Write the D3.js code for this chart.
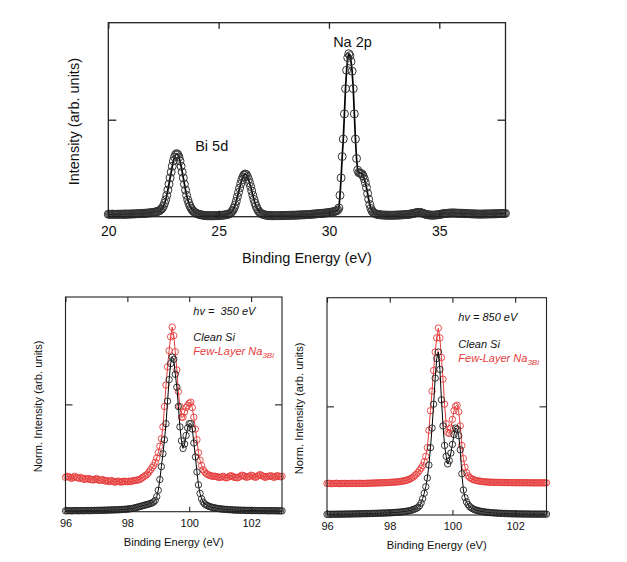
<!DOCTYPE html>
<html><head><meta charset="utf-8">
<script src="https://cdn.jsdelivr.net/npm/d3@7"></script>
<style>body{margin:0;background:#fff} svg{display:block} text{font-family:"Liberation Sans",Arial,sans-serif}</style>
</head><body><svg id="c" width="627" height="562"></svg>
<script>
// ---------- DATA ----------
const topStart = 20, topStep = 0.05;          // binding energy grid (eV)
const topIntensity = [
0.025,0.025,0.024,0.025,0.026,0.025,0.024,0.025,0.025,0.026,
0.025,0.025,0.026,0.026,0.025,0.026,0.027,0.026,0.027,0.027,
0.028,0.028,0.028,0.029,0.029,0.030,0.030,0.031,0.031,0.032,
0.033,0.033,0.034,0.035,0.036,0.037,0.038,0.039,0.040,0.041,
0.043,0.045,0.047,0.049,0.052,0.055,0.060,0.067,0.077,0.090,
0.110,0.140,0.175,0.220,0.275,0.335,0.400,0.460,0.520,0.575,
0.615,0.640,0.650,0.640,0.615,0.575,0.520,0.460,0.400,0.335,
0.275,0.220,0.175,0.140,0.110,0.088,0.070,0.057,0.047,0.040,
0.034,0.029,0.025,0.022,0.019,0.017,0.015,0.013,0.012,0.011,
0.010,
0.010,0.010,0.009,0.009,0.010,0.010,0.011,0.011,0.012,0.012,0.013,0.014,0.015,0.016,0.017,0.019,0.021,0.023,
0.027,0.032,0.040,0.052,0.068,0.090,0.120,0.160,0.205,0.250,
0.295,0.340,0.380,0.410,0.430,0.440,0.435,0.415,0.385,0.350,
0.310,0.265,0.220,0.178,0.140,0.108,0.082,0.062,0.047,0.037,
0.030,0.025,0.021,0.018,0.016,0.014,0.013,0.012,
0.011,0.011,0.010,0.010,0.010,0.010,0.010,0.011,0.011,0.011,
0.012,0.012,0.012,0.013,0.013,0.013,0.014,0.014,0.014,0.015,
0.015,0.015,0.016,0.016,0.017,0.017,0.018,0.018,0.019,0.019,
0.020,0.020,0.021,0.022,0.022,0.023,0.024,0.025,0.026,0.027,
0.028,0.029,0.030,0.031,
0.032,0.033,0.034,0.035,0.036,0.037,0.038,0.040,0.041,0.043,0.045,0.047,0.049,0.051,0.054,0.057,0.062,0.070,
0.090,0.220,0.400,0.620,0.800,1.060,1.320,1.510,1.640,1.680,
1.660,1.600,1.500,1.320,1.060,0.800,0.600,0.480,0.455,0.450,
0.445,0.440,0.420,0.390,0.350,0.300,0.240,0.180,0.125,0.085,
0.060,0.045,0.037,0.031,0.027,0.024,0.022,0.020,
0.019,0.018,0.017,0.017,0.016,0.016,0.015,0.015,0.015,0.015,
0.015,0.015,0.016,0.016,0.016,0.017,0.017,0.018,0.018,0.019,
0.020,0.020,0.021,0.022,0.023,0.024,0.026,0.028,0.030,0.032,
0.035,0.038,0.041,0.043,0.044,0.044,0.043,0.040,0.036,0.031,0.027,0.024,
0.021,0.019,0.018,0.017,0.016,0.016,0.016,0.017,0.018,0.019,0.021,0.023,0.025,0.027,0.029,0.031,
0.033,0.034,0.035,0.036,0.037,0.037,0.038,0.038,0.038,0.038,0.037,0.037,0.036,0.036,0.035,0.035,0.034,0.034,0.033,0.033,0.032,0.031,0.031,0.030,
0.030,0.029,0.029,0.028,0.028,0.028,0.027,0.027,0.027,0.027,0.027,0.027,0.028,0.028,0.028,0.028,0.029,0.029,0.029,0.029,0.030,0.030,0.030,0.031,0.031,0.031,0.032,0.032,0.032,0.033,0.033,0.034
];

const btmStart = 96, btmStep = 0.05;
const clean350 = [
0.008,0.009,0.010,0.009,0.008,0.009,0.010,0.010,0.009,0.009,0.010,0.010,0.009,0.010,0.011,0.010,0.010,0.011,0.011,0.012,
0.012,0.012,0.013,0.013,0.013,0.014,0.014,0.015,0.015,0.016,0.016,0.017,0.017,0.018,0.018,0.019,0.020,0.021,0.022,0.023,
0.024,0.026,0.028,0.030,0.033,0.036,0.040,0.044,0.048,0.052,0.056,0.060,0.064,0.068,0.072,0.077,0.082,0.090,0.105,0.140,
0.20,0.30,0.42,0.54,0.67,0.82,1.03,1.23,1.38,1.44,1.42,1.28,1.16,0.98,0.79,0.66,0.59,0.63,0.71,0.78,
0.82,0.82,0.77,0.64,0.51,0.37,0.25,0.17,0.12,0.09,0.072,0.062,0.055,0.049,0.044,0.040,0.037,0.034,0.031,0.029,
0.027,0.025,0.024,0.022,0.021,0.020,0.019,0.018,0.017,0.016,0.015,0.015,0.014,0.014,0.013,0.013,0.013,0.012,0.012,0.012,
0.011,0.011,0.011,0.011,0.010,0.010,0.010,0.010,0.010,0.010,0.009,0.009,0.009,0.009,0.009,0.009,0.009,0.008,0.008,0.008,0.008
];
const na3bi350 = [
0.32,0.33,0.325,0.32,0.31,0.32,0.33,0.32,0.315,0.31,0.32,0.31,0.30,0.31,0.305,0.31,0.30,0.30,0.295,0.30,
0.31,0.30,0.29,0.295,0.30,0.29,0.285,0.29,0.28,0.285,0.29,0.28,0.275,0.28,0.285,0.28,0.275,0.28,0.285,0.28,
0.28,0.285,0.28,0.285,0.29,0.29,0.295,0.295,0.30,0.31,0.32,0.33,0.34,0.35,0.37,0.39,0.41,0.43,0.46,0.50,
0.55,0.61,0.68,0.79,0.98,1.18,1.35,1.50,1.63,1.72,1.64,1.49,1.32,1.12,0.98,0.88,0.88,0.93,0.97,0.99,
1.01,1.02,0.97,0.88,0.77,0.67,0.55,0.48,0.43,0.39,0.37,0.355,0.345,0.34,0.335,0.33,0.33,0.33,0.325,0.32,
0.32,0.325,0.33,0.32,0.315,0.32,0.33,0.335,0.33,0.32,0.32,0.315,0.32,0.33,0.34,0.335,0.33,0.32,0.325,0.33,
0.34,0.335,0.325,0.32,0.33,0.34,0.345,0.335,0.33,0.32,0.325,0.33,0.33,0.335,0.325,0.32,0.33,0.335,0.33,0.325,0.33
];
const clean850 = [
0.006,0.006,0.007,0.006,0.007,0.007,0.007,0.008,0.007,0.008,0.008,0.008,0.009,0.009,0.009,0.009,0.010,0.010,0.010,0.011,
0.011,0.011,0.012,0.012,0.012,0.013,0.013,0.013,0.014,0.014,0.015,0.015,0.016,0.016,0.017,0.017,0.018,0.018,0.019,0.020,
0.020,0.021,0.022,0.023,0.024,0.025,0.026,0.027,0.029,0.031,0.033,0.035,0.038,0.041,0.045,0.050,0.055,0.062,0.070,0.085,
0.11,0.15,0.20,0.26,0.34,0.46,0.62,0.80,1.02,1.26,1.44,1.50,1.34,1.06,0.82,0.64,0.54,0.47,0.50,0.57,
0.65,0.74,0.80,0.79,0.73,0.60,0.38,0.23,0.16,0.12,0.095,0.078,0.066,0.057,0.050,0.045,0.041,0.037,0.034,0.031,
0.029,0.027,0.025,0.024,0.022,0.021,0.020,0.019,0.018,0.017,0.016,0.015,0.015,0.014,0.013,0.013,0.012,0.012,0.011,0.011,
0.011,0.010,0.010,0.010,0.010,0.009,0.009,0.009,0.009,0.009,0.008,0.008,0.008,0.008,0.008,0.008,0.008,0.008,0.008,0.008,0.008
];
const na3bi850 = [
0.290,0.292,0.290,0.288,0.290,0.290,0.292,0.290,0.288,0.290,0.290,0.291,0.290,0.289,0.290,0.290,0.291,0.290,0.290,0.291,
0.290,0.292,0.291,0.290,0.291,0.292,0.292,0.293,0.293,0.294,0.294,0.295,0.295,0.296,0.296,0.297,0.297,0.298,0.298,0.299,
0.300,0.301,0.302,0.303,0.304,0.305,0.307,0.309,0.311,0.314,0.317,0.321,0.326,0.332,0.340,0.350,0.362,0.376,0.392,0.410,
0.43,0.455,0.49,0.54,0.62,0.78,0.96,1.14,1.33,1.50,1.63,1.72,1.63,1.45,1.25,1.02,0.84,0.76,0.75,0.80,
0.88,0.96,1.00,1.01,0.95,0.82,0.64,0.52,0.44,0.39,0.36,0.345,0.335,0.328,0.322,0.318,0.315,0.312,0.310,0.308,
0.306,0.305,0.304,0.303,0.302,0.302,0.301,0.301,0.300,0.300,0.300,0.300,0.299,0.299,0.299,0.298,0.298,0.298,0.298,0.298,
0.297,0.297,0.297,0.297,0.297,0.297,0.297,0.297,0.297,0.297,0.296,0.296,0.296,0.296,0.296,0.296,0.296,0.296,0.296,0.296,0.296
];

const topXTicks = [20, 25, 30, 35];
const btmXTicks = [96, 98, 100, 102];
const yTicks = [1];
const RED = "#e53b3b";
const FONT = '"Liberation Sans", Arial, sans-serif';

// ---------- DRAW ----------
const svg = d3.select("#c");

function drawPanel(cfg) {
  const g = svg.append("g");
  const x = d3.scaleLinear().domain(cfg.xd).range([cfg.l, cfg.r]);
  const y = d3.scaleLinear().domain([0, 2]).range([cfg.b, cfg.t]);

  cfg.series.forEach(s => {
    const pts = s.values.map((v, i) => [cfg.start + i * cfg.step, v]);
    g.append("path").datum(pts)
      .attr("d", d3.line().x(d => x(d[0])).y(d => y(d[1])))
      .attr("fill", "none").attr("stroke", s.line).attr("stroke-width", s.lw)
      .attr("stroke-linejoin", "round");
    g.append("g").selectAll("circle").data(pts).join("circle")
      .attr("cx", d => x(d[0])).attr("cy", d => y(d[1])).attr("r", s.r)
      .attr("fill", "none").attr("stroke", s.color).attr("stroke-width", s.mw);
  });

  g.append("rect").attr("x", cfg.l).attr("y", cfg.t)
    .attr("width", cfg.r - cfg.l).attr("height", cfg.b - cfg.t)
    .attr("fill", "none").attr("stroke", "#222").attr("stroke-width", cfg.fw);

  const style = sel => {
    sel.select(".domain").remove();
    sel.attr("font-family", FONT).attr("font-size", cfg.fs);
    sel.selectAll("line").attr("stroke", "#222").attr("stroke-width", cfg.fw);
    sel.selectAll("text").attr("fill", "#111");
  };
  g.append("g").attr("transform", `translate(0,${cfg.b})`)
    .call(d3.axisBottom(x).tickValues(cfg.xTicks).tickSizeInner(-cfg.xtl).tickSizeOuter(0)
      .tickPadding(cfg.pad).tickFormat(d3.format("d"))).call(style);
  g.append("g").attr("transform", `translate(0,${cfg.t})`)
    .call(d3.axisTop(x).tickValues(cfg.xTicks).tickSizeInner(-cfg.xtl).tickSizeOuter(0).tickFormat("")).call(style);
  g.append("g").attr("transform", `translate(${cfg.l},0)`)
    .call(d3.axisLeft(y).tickValues(yTicks).tickSizeInner(-cfg.ytl).tickSizeOuter(0).tickFormat("")).call(style);
  g.append("g").attr("transform", `translate(${cfg.r},0)`)
    .call(d3.axisRight(y).tickValues(yTicks).tickSizeInner(-cfg.ytl).tickSizeOuter(0).tickFormat("")).call(style);

  g.append("text").attr("x", (cfg.l + cfg.r) / 2).attr("y", cfg.xTitleY)
    .attr("text-anchor", "middle").attr("font-size", cfg.tfs).attr("fill", "#111").text("Binding Energy (eV)");
  g.append("text").attr("transform", `translate(${cfg.yTitleX},${(cfg.t + cfg.b) / 2 + 2}) rotate(-90)`)
    .attr("text-anchor", "middle").attr("font-size", cfg.tfs).attr("fill", "#111").text(cfg.yTitle);
  return g;
}

// Top panel
const gTop = drawPanel({
  l: 108.3, r: 505.5, t: 22.7, b: 216.7, xd: [20, 38], start: topStart, step: topStep,
  xTicks: topXTicks, xtl: 6, ytl: 8, pad: 9.4, fs: 14, tfs: 14.5, fw: 1.3,
  xTitleY: 263.3, yTitleX: 78.5, yTitle: "Intensity (arb. units)",
  series: [{ values: topIntensity, color: "#333", line: "#000", lw: 1.7, r: 4, mw: 1 }]
});
gTop.append("text").attr("x", 352.5).attr("y", 46.5).attr("text-anchor", "middle")
  .attr("font-size", 14.5).attr("fill", "#111").text("Na 2p");
gTop.append("text").attr("x", 211.7).attr("y", 150.7).attr("text-anchor", "middle")
  .attr("font-size", 14.5).attr("fill", "#111").text("Bi 5d");

// Bottom panels
function bottom(l, r, t, b, clean, na, hv, ann) {
  const g = drawPanel({
    l, r, t, b, xd: [96, 103], start: btmStart, step: btmStep,
    xTicks: btmXTicks, xtl: 5, ytl: 7, pad: 7.2, fs: 11, tfs: 11.2, fw: 1.1,
    xTitleY: b + 34, yTitleX: l - 23.6, yTitle: "Norm. Intensity (arb. units)",
    series: [
      { values: na, color: RED, line: RED, lw: 1, r: 3.2, mw: 0.9 },
      { values: clean, color: "#222", line: "#000", lw: 1, r: 3.2, mw: 0.9 }
    ]
  });
  const t1 = g.append("text").attr("x", ann.x).attr("y", ann.y1).attr("font-size", 11)
    .attr("font-style", "italic").attr("fill", "#111").style("white-space", "pre").text(hv);
  g.append("text").attr("x", ann.x).attr("y", ann.y2).attr("font-size", 11)
    .attr("font-style", "italic").attr("fill", "#111").text("Clean Si");
  const t3 = g.append("text").attr("x", ann.x).attr("y", ann.y3).attr("font-size", 11)
    .attr("font-style", "italic").attr("fill", RED);
  t3.append("tspan").text("Few-Layer Na");
  t3.append("tspan").attr("font-size", 8).attr("dy", 2.5).text("3Bi");
}
bottom(65.5, 282, 297, 511.7, clean350, na3bi350, "hv =  350 eV", { x: 193.3, y1: 314.5, y2: 340.5, y3: 355 });
bottom(327, 546.5, 297.7, 515, clean850, na3bi850, "hv = 850 eV", { x: 458.3, y1: 320.5, y2: 348, y3: 362 });
</script>
</body></html>
